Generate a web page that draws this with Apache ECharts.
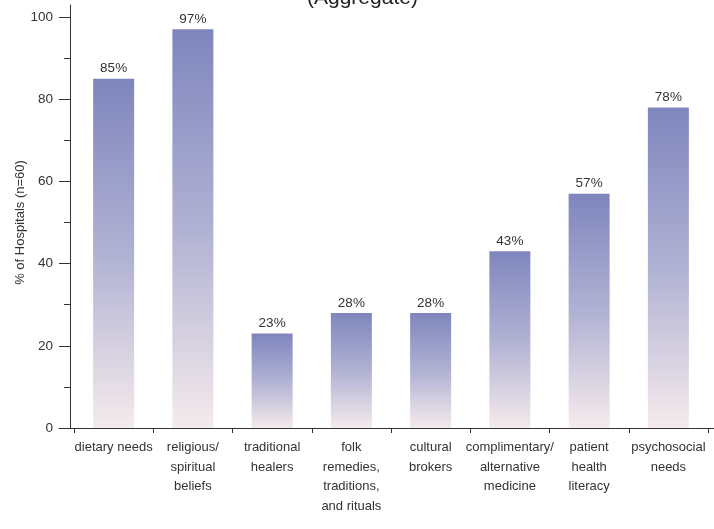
<!DOCTYPE html>
<html>
<head>
<meta charset="utf-8">
<script src="https://cdn.jsdelivr.net/npm/echarts@6/dist/echarts.min.js"></script>
<style>
html,body{margin:0;padding:0;background:#fff;}
#chart{width:714px;height:529px;}
</style>
</head>
<body>
<div id="chart"></div>
<script>
const categories = [
  'dietary needs',
  'religious/\nspiritual\nbeliefs',
  'traditional\nhealers',
  'folk\nremedies,\ntraditions,\nand rituals',
  'cultural\nbrokers',
  'complimentary/\nalternative\nmedicine',
  'patient\nhealth\nliteracy',
  'psychosocial\nneeds'
];
const values = [85, 97, 23, 28, 28, 43, 57, 78];
const yMin = 0;
const yMax = 100;
const yStep = 20;
const titleText = '(Aggregate)';
const yName = '% of Hospitals (n=60)';

const FONT = "'Liberation Sans Narrow', 'Liberation Sans', Arial, sans-serif";
const chart = echarts.init(document.getElementById('chart'), null, {renderer: 'canvas'});
chart.setOption({
  animation: false,
  backgroundColor: '#ffffff',
  title: {
    text: titleText,
    left: 302,
    top: -17,
    textStyle: {fontFamily: "'Liberation Sans', Arial, sans-serif", fontSize: 21, fontWeight: 'normal', color: '#222'}
  },
  grid: [
    {left: 74, right: 6, top: 17, bottom: 101, containLabel: false},
    {left: 59, right: 0, top: 5, bottom: 101, containLabel: false}
  ],
  xAxis: [{
    type: 'category',
    gridIndex: 0,
    data: categories,
    axisLine: {show: true, lineStyle: {color: '#333', width: 1}},
    axisTick: {show: true, alignWithLabel: false, length: 5, lineStyle: {color: '#333'}},
    axisLabel: {
      interval: 0, margin: 10, color: '#333', fontFamily: FONT, fontSize: 13, lineHeight: 19.5, align: 'center'
    }
  }, {
    type: 'value',
    gridIndex: 1,
    min: 0, max: 1,
    axisLine: {show: true, lineStyle: {color: '#333', width: 1}},
    axisTick: {show: false},
    axisLabel: {show: false},
    splitLine: {show: false}
  }],
  yAxis: [{
    type: 'value',
    gridIndex: 0,
    min: yMin, max: yMax, interval: yStep,
    offset: 4,
    name: yName,
    nameLocation: 'middle',
    nameRotate: 90,
    nameGap: 43,
    nameMoveOverlap: false,
    nameTextStyle: {fontFamily: FONT, fontSize: 13, color: '#333'},
    axisLine: {show: false},
    axisTick: {show: true, length: 11, lineStyle: {color: '#333'}},
    minorTick: {show: true, splitNumber: 2, length: 6, lineStyle: {color: '#333'}},
    axisLabel: {margin: 17, color: '#333', fontFamily: FONT, fontSize: 13.5},
    splitLine: {show: false}
  }, {
    type: 'value',
    gridIndex: 1,
    min: 0, max: 1,
    offset: -11,
    axisLine: {show: true, lineStyle: {color: '#333', width: 1}},
    axisTick: {show: false},
    axisLabel: {show: false},
    splitLine: {show: false}
  }],
  series: [{
    type: 'bar',
    xAxisIndex: 0,
    yAxisIndex: 0,
    data: values,
    barWidth: 41,
    itemStyle: {
      color: new echarts.graphic.LinearGradient(0, 0, 0, 1, [
        {offset: 0, color: '#7f86bd'},
        {offset: 0.5, color: '#b0b1d3'},
        {offset: 1, color: '#f5ebec'}
      ])
    },
    label: {
      show: true, position: 'top', distance: 3,
      formatter: p => p.value + '%',
      color: '#333', fontFamily: FONT, fontSize: 13.5
    }
  }]
});
</script>
</body>
</html>
